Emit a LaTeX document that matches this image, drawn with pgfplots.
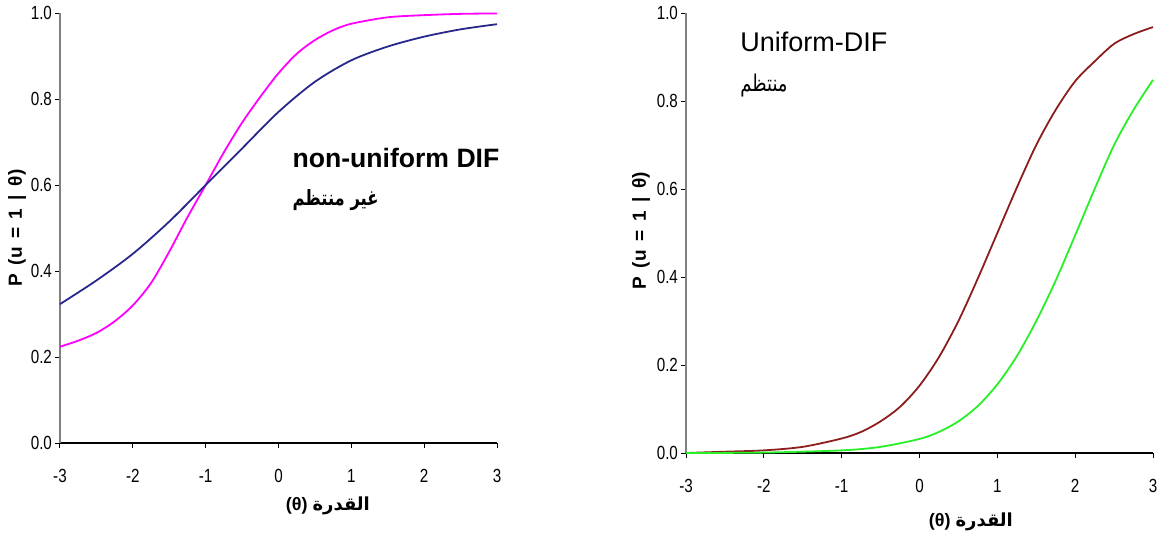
\documentclass[border=0pt]{standalone}
\usepackage{pgfplots}
\pgfplotsset{compat=1.18}
\usepackage{fontspec}
\setmainfont{Liberation Sans}
\newfontfamily\narrowfont[FakeStretch=0.8]{Liberation Sans}
\newfontfamily\arabicfont[Script=Arabic]{DejaVu Sans}
\newfontfamily\arabicnarrow[Script=Arabic,FakeStretch=0.78]{DejaVu Sans}
\TeXXeTstate=1
\definecolor{cpink}{RGB}{255,0,255}
\definecolor{cblue}{RGB}{40,40,140}
\definecolor{cbrown}{RGB}{140,30,30}
\definecolor{cgreen}{RGB}{40,240,40}
\pgfplotsset{difax/.style={
  scale only axis, axis lines=left,
  x axis line style={black,-,line width=0.8pt},
  y axis line style={gray,-,line width=0.8pt},
  tick align=outside, major tick length=2.5pt,
  tick style={black,line width=0.5pt},
  xmin=-3,xmax=3,ymin=0,ymax=1,
  xtick={-3,-2,-1,0,1,2,3},
  ytick={0,0.2,0.4,0.6,0.8,1},
  /pgf/number format/assume math mode=true,
  yticklabel style={/pgf/number format/fixed, /pgf/number format/fixed zerofill, /pgf/number format/precision=1, xshift=2pt},
  ticklabel style={font=\narrowfont\fontsize{9.5}{10}\selectfont},
  xticklabel style={yshift=-7pt},
  clip=false, enlargelimits=false,
}}
\newcommand{\ylab}{P\hspace{0.45em}(u\hspace{0.45em}=\hspace{0.45em}1\hspace{0.45em}|\hspace{0.45em}θ)}
\begin{document}
\begin{tikzpicture}
\useasboundingbox (0,0) rectangle (582.5pt,268.5pt);
% left panel
\begin{axis}[difax, at={(30pt,47pt)}, anchor=south west, width=218.5pt, height=215pt]
\addplot[cpink, line width=0.9pt, smooth] coordinates {
(-3,0.224) (-2.75,0.238) (-2.5,0.256) (-2.25,0.283) (-2,0.320) (-1.75,0.372)
(-1.5,0.445) (-1.25,0.525) (-1,0.600) (-0.75,0.676) (-0.5,0.745) (-0.25,0.805)
(0,0.860) (0.25,0.905) (0.5,0.937) (0.75,0.960) (1,0.975) (1.5,0.990)
(2,0.995) (2.5,0.998) (3,0.999)};
\addplot[cblue, line width=0.9pt, smooth] coordinates {
(-3,0.323) (-2.5,0.378) (-2,0.440) (-1.5,0.515) (-1,0.600) (-0.5,0.685)
(0,0.770) (0.5,0.840) (1,0.890) (1.5,0.922) (2,0.945) (2.5,0.962) (3,0.974)};
\node[anchor=west, font=\bfseries\fontsize{13.3}{15}\selectfont, inner sep=0pt] at (axis cs:0.187,0.663) {non-uniform DIF};
\node[anchor=west, font=\fontsize{10.5}{13}\selectfont, inner sep=0pt] at (axis cs:0.187,0.565) {\arabicnarrow\bfseries\beginR غير منتظم\endR};
\node[rotate=90, font=\bfseries\fontsize{9.5}{10}\selectfont] at (rel axis cs:-0.098,0.50) {\ylab};
\node[font=\bfseries\fontsize{9}{11}\selectfont] at (rel axis cs:0.613,-0.1465) {(θ)\ {\arabicfont\bfseries\beginR القدرة\endR}};
\end{axis}
% right panel
\begin{axis}[difax, at={(343pt,42pt)}, anchor=south west, width=233.5pt, height=220pt]
\addplot[cbrown, line width=0.9pt, smooth] coordinates {
(-3,0.000) (-2.5,0.003) (-2,0.006) (-1.5,0.014) (-1,0.033) (-0.75,0.048)
(-0.5,0.072) (-0.25,0.105) (0,0.153) (0.25,0.218) (0.5,0.300) (0.75,0.397)
(1,0.500) (1.25,0.603) (1.5,0.700) (1.75,0.780) (2,0.845) (2.25,0.890)
(2.5,0.930) (2.75,0.952) (3,0.968)};
\addplot[cgreen, line width=0.9pt, smooth] coordinates {
(-3,0.000) (-2,0.001) (-1,0.006) (-0.5,0.014) (0,0.032) (0.25,0.048)
(0.5,0.072) (0.75,0.107) (1,0.156) (1.25,0.220) (1.5,0.300) (1.75,0.392)
(2,0.495) (2.25,0.600) (2.5,0.700) (2.75,0.780) (3,0.848)};
\node[anchor=west, font=\fontsize{13.5}{15}\selectfont, inner sep=0pt] at (axis cs:-2.306,0.934) {Uniform-DIF};
\node[anchor=west, font=\fontsize{11.5}{13}\selectfont, inner sep=0pt] at (axis cs:-2.306,0.836) {\arabicnarrow\beginR منتظم\endR};
\node[rotate=90, font=\bfseries\fontsize{9.5}{10}\selectfont] at (rel axis cs:-0.096,0.505) {\ylab};
\node[font=\bfseries\fontsize{9}{11}\selectfont] at (rel axis cs:0.61,-0.157) {(θ)\ {\arabicfont\bfseries\beginR القدرة\endR}};
\end{axis}
\end{tikzpicture}
\end{document}
